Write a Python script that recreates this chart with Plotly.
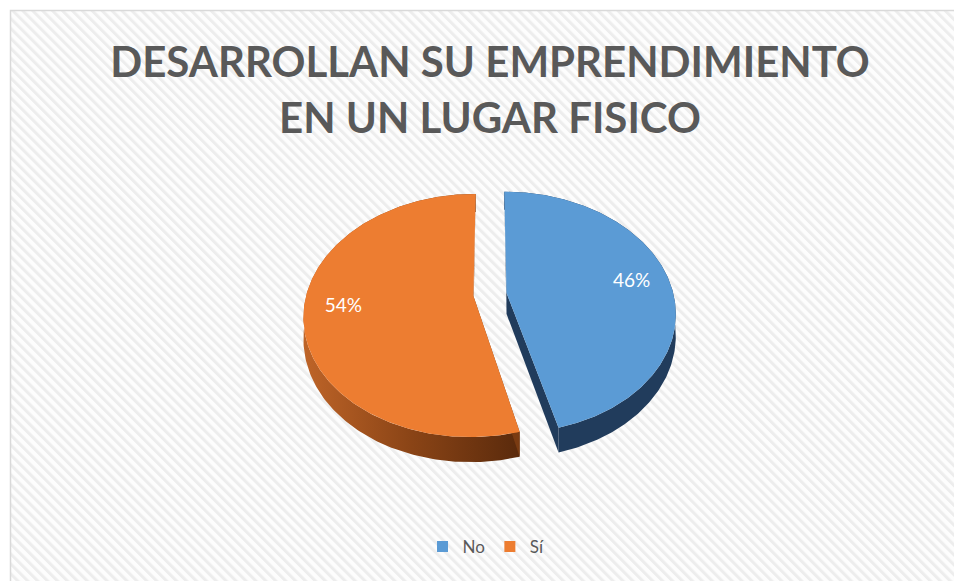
import numpy as np
import urllib.parse
import plotly.graph_objects as go

# ---- data ----
categories = ["No", "Sí"]
values = [46, 54]
top_colors = ["#5B9BD5", "#ED7D31"]
title_lines = ["DESARROLLAN SU EMPRENDIMIENTO", "EN UN LUGAR FISICO"]

# ---- layout / geometry (style) ----
W, H = 962, 581
OFF = 8            # default page margin compensation
CX, CY = 490, 294.5
RX, RY = 167, 118
K = 0.16           # perspective strength
DEPTH = 21
EXPLODE = 0.10
LABEL_R = 0.77
TITLE_FONT = "Lato, Open Sans, sans-serif"
BODY_FONT = "Lato, Open Sans, sans-serif"


def px(x):
    return (x - OFF) / W


def py(y):
    return 1 - (y - OFF) / H


def proj(u, v, z):
    s = 1.0 / (1.0 - K * v)
    return CX + RX * u * s, CY + (RY * v + DEPTH * z) * s


wall_styles = [
    dict(fillcolor="#213C5C"),
    dict(fillgradient=dict(type="horizontal",
                           colorscale=[[0, "#BE6428"], [0.5, "#8A4416"], [1, "#5A2A0C"]])),
]
cut_colors = ["#213C5C", "#7A3B12"]

total = float(sum(values))
walls, tops, labels = [], [], []
start = 0.0
for i, (cat, val) in enumerate(zip(categories, values)):
    a0 = start / total * 2 * np.pi
    a1 = (start + val) / total * 2 * np.pi
    start += val
    mid = 0.5 * (a0 + a1)
    ou, ov = EXPLODE * np.sin(mid), -EXPLODE * np.cos(mid)
    th = np.linspace(a0, a1, 240)
    u = ou + np.sin(th)
    v = ov - np.cos(th)
    xt, yt = proj(u, v, 0)
    xb, yb = proj(u, v, 1)
    xc, yc = proj(ou, ov, 0)
    xcb, ycb = proj(ou, ov, 1)
    tops.append(go.Scatter(
        x=np.r_[xc, xt, xc], y=np.r_[yc, yt, yc], mode="lines", fill="toself",
        fillcolor=top_colors[i], line=dict(width=0), hoverinfo="skip", showlegend=False))
    walls.append(go.Scatter(
        x=np.r_[xt, xb[::-1], xt[0]], y=np.r_[yt, yb[::-1], yt[0]], mode="lines",
        fill="toself", line=dict(width=0), hoverinfo="skip", showlegend=False,
        **wall_styles[i]))
    for idx in (0, -1):
        walls.append(go.Scatter(
            x=[xc, xt[idx], xb[idx], xcb, xc], y=[yc, yt[idx], yb[idx], ycb, yc],
            mode="lines", fill="toself", line=dict(width=0), hoverinfo="skip",
            showlegend=False, fillcolor=cut_colors[i]))
    lx, ly = proj(ou + LABEL_R * np.sin(mid), ov - LABEL_R * np.cos(mid), 0)
    labels.append(go.Scatter(
        x=[lx], y=[ly], mode="text", text=[f"{round(val / total * 100)}%"],
        textfont=dict(family=BODY_FONT, size=19, color="white"),
        hoverinfo="skip", showlegend=False))

legend_traces = [
    go.Scatter(x=[None], y=[None], mode="markers", name=cat,
               marker=dict(symbol="square", size=11, color=c))
    for cat, c in zip(categories, top_colors)
]

fig = go.Figure(walls + tops + labels + legend_traces)

stripes_svg = (
    '<svg xmlns="http://www.w3.org/2000/svg" width="960" height="580">'
    '<defs><pattern id="p" width="7" height="7" patternUnits="userSpaceOnUse" '
    'patternTransform="rotate(-45)"><rect width="7" height="7" fill="#fdfdfd"/>'
    '<rect width="3" height="7" fill="#ededed"/></pattern></defs>'
    '<rect width="100%" height="100%" fill="url(#p)"/></svg>'
)
src = "data:image/svg+xml;charset=utf-8," + urllib.parse.quote(stripes_svg)

title_font = dict(family=TITLE_FONT, size=42, color="#595959", weight="bold")

fig.update_layout(
    width=W, height=H,
    margin=dict(l=0, r=0, t=0, b=0),
    paper_bgcolor="white", plot_bgcolor="rgba(0,0,0,0)",
    xaxis=dict(range=[OFF, W + OFF], visible=False, fixedrange=True),
    yaxis=dict(range=[H + OFF, OFF], visible=False, fixedrange=True),
    title=dict(text=title_lines[0], x=px(490), xanchor="center",
               y=py(62), yanchor="middle", yref="container", font=title_font),
    annotations=[dict(text=title_lines[1], xref="paper", yref="paper", x=px(490), y=py(117),
                      xanchor="center", yanchor="middle", showarrow=False, font=title_font)],
    showlegend=True,
    legend=dict(orientation="h", x=px(486), xanchor="center", y=py(547), yanchor="middle",
                font=dict(family=BODY_FONT, size=17, color="#595959"),
                itemwidth=30, bgcolor="rgba(0,0,0,0)"),
    images=[dict(source=src, xref="paper", yref="paper", x=px(10), y=py(10),
                 sizex=1, sizey=1, sizing="stretch", layer="below", xanchor="left", yanchor="top")],
    shapes=[dict(type="rect", xref="paper", yref="paper", x0=px(10.5), y0=-0.1, x1=1.1, y1=py(10.5),
                 line=dict(color="#d9d9d9", width=1.5), fillcolor="rgba(0,0,0,0)", layer="below")],
)

fig.write_html("out.html")
